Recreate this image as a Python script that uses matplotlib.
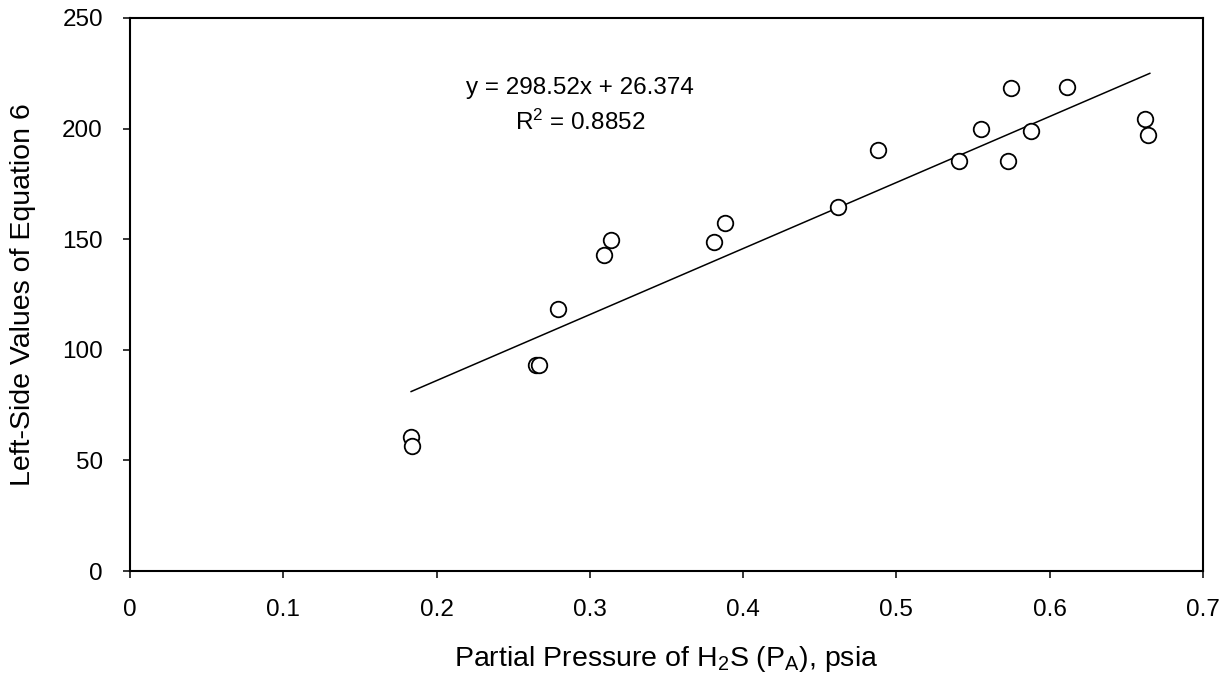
import matplotlib
matplotlib.use("Agg")
import matplotlib.pyplot as plt
import numpy as np

plt.rcParams["font.family"] = "Liberation Sans"
plt.rcParams["mathtext.default"] = "regular"

# pressure of H2S (psia) and left-side values of equation 6
pressure = [0.183, 0.184, 0.265, 0.267, 0.279, 0.309, 0.314, 0.381, 0.388,
            0.462, 0.488, 0.541, 0.555, 0.573, 0.575, 0.588, 0.611, 0.662, 0.664]
lhs_values = [60.4, 56.5, 93.1, 93.1, 118.3, 142.9, 149.5, 148.9, 157.2,
              164.4, 190.3, 185.5, 199.7, 185.5, 218.5, 198.8, 218.6, 204.5, 197.1]

# linear trendline as printed on the chart
slope = 298.52
intercept = 26.374
r_squared = 0.8852
fit_range = [0.1834, 0.6653]

x_ticks = [0, 0.1, 0.2, 0.3, 0.4, 0.5, 0.6, 0.7]
x_tick_labels = ["0", "0.1", "0.2", "0.3", "0.4", "0.5", "0.6", "0.7"]
y_ticks = [0, 50, 100, 150, 200, 250]

fig = plt.figure(figsize=(12.31, 6.77), dpi=100)
ax = fig.add_axes([130 / 1231, 1 - 571 / 677, (1203 - 130) / 1231, (571 - 18) / 677])

xf = np.array(fit_range)
ax.plot(xf, slope * xf + intercept, color="black", lw=1.1, zorder=2)
ax.plot(pressure, lhs_values, ls="none", marker="o", ms=11.2, mfc="white",
        mec="black", mew=1.3, zorder=3)

ax.set_xlim(0, 0.7)
ax.set_ylim(0, 250)
ax.set_xticks(x_ticks)
ax.set_xticklabels(x_tick_labels)
ax.set_yticks(y_ticks)
ax.tick_params(direction="out", length=5, width=1.1, labelsize=17.5)
ax.tick_params(axis="x", pad=15.5)
ax.tick_params(axis="y", pad=14.5)
for s in ax.spines.values():
    s.set_linewidth(1.5)

ax.set_xlabel("Partial Pressure of H$_2$S (P$_A$), psia", fontsize=20.5, labelpad=16)
ax.set_ylabel("Left-Side Values of Equation 6", fontsize=20.5, labelpad=19)

ax.text(0.2935, 218.4, f"y = {slope}x + {intercept}", ha="center", va="center", fontsize=17.5)
ax.text(0.2935, 203.0, f"R$^2$ = {r_squared}", ha="center", va="center", fontsize=17.5)

fig.savefig("out.png", dpi=100)
